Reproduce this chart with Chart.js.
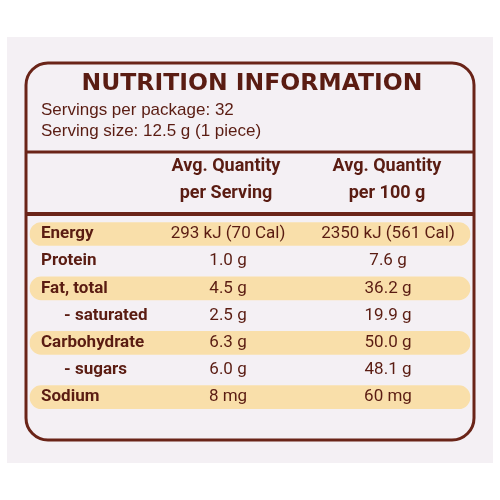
<!DOCTYPE html>
<html><head><meta charset="utf-8">
<script src="https://cdn.jsdelivr.net/npm/chart.js@4"></script>
<style>html,body{margin:0;padding:0;background:#fff}#w{width:500px;height:500px}</style>
</head><body><div id="w"><canvas id="c"></canvas></div>
<script>
const nutrients = ["Energy","Protein","Fat, total","- saturated","Carbohydrate","- sugars","Sodium"];
const perServing = ["293 kJ (70 Cal)","1.0 g","4.5 g","2.5 g","6.3 g","6.0 g","8 mg"];
const per100g = ["2350 kJ (561 Cal)","7.6 g","36.2 g","19.9 g","50.0 g","48.1 g","60 mg"];
const highlighted = [true,false,true,false,true,false,true];
const title = "NUTRITION INFORMATION";
const servingsLine = "Servings per package: 32";
const sizeLine = "Serving size: 12.5 g (1 piece)";
const colHeads = [["Avg. Quantity","per Serving"],["Avg. Quantity","per 100 g"]];

const rowY = nutrients.map((_, i) => 234 + i * 27.2);
const BROWN = "#6a2418", TEXT = "#5a1c12";

const tablePlugin = {
  id: 'table',
  beforeDatasetsDraw(chart) {
    const c = chart.ctx, x = chart.scales.x, y = chart.scales.y;
    const X = v => x.getPixelForValue(v), Y = v => y.getPixelForValue(v);
    c.save();
    c.fillStyle = "#f4f0f4";
    c.fillRect(X(7), Y(37), X(493) - X(7), Y(463) - Y(37));
    c.restore();
  },
  afterDatasetsDraw(chart) {
    const c = chart.ctx, x = chart.scales.x, y = chart.scales.y;
    const X = v => x.getPixelForValue(v), Y = v => y.getPixelForValue(v);
    c.save();
    c.strokeStyle = BROWN; c.lineWidth = 3;
    c.beginPath(); c.roundRect(X(26), Y(63), X(474) - X(26), Y(440) - Y(63), 22); c.stroke();
    c.lineWidth = 3;
    c.beginPath(); c.moveTo(X(26), Y(152)); c.lineTo(X(474), Y(152)); c.stroke();
    c.lineWidth = 4;
    c.beginPath(); c.moveTo(X(26), Y(214)); c.lineTo(X(474), Y(214)); c.stroke();
    c.fillStyle = TEXT; c.textBaseline = "middle";
    c.textAlign = "center";
    c.font = "bold 23.5px 'DejaVu Sans'";
    c.fillText(title, X(252), Y(84));
    c.textAlign = "left";
    c.font = "17px 'Liberation Sans'";
    c.fillText(servingsLine, X(41), Y(110));
    c.fillText(sizeLine, X(41), Y(131));
    c.textAlign = "center";
    c.font = "bold 18px Roboto";
    [226, 387].forEach((cx, k) => {
      c.fillText(colHeads[k][0], X(cx), Y(166));
      c.fillText(colHeads[k][1], X(cx), Y(193));
    });
    nutrients.forEach((n, i) => {
      c.textAlign = "left";
      c.font = "bold 17px Roboto";
      c.fillText(n, X(n.startsWith("-") ? 64 : 41), Y(rowY[i]));
      c.font = "17px Roboto";
      c.textAlign = "center";
      c.fillText(perServing[i], X(228), Y(rowY[i]));
      c.fillText(per100g[i], X(388), Y(rowY[i]));
    });
    c.restore();
  }
};

new Chart(document.getElementById('c'), {
  type: 'bar',
  data: {
    datasets: [{
      data: nutrients.map((n, i) => highlighted[i] ? { x: [30, 470], y: rowY[i] } : null).filter(Boolean),
      backgroundColor: "#f9dfaa",
      borderRadius: 12, borderSkipped: false,
      barThickness: 23
    }]
  },
  options: {
    indexAxis: 'y', responsive: true, maintainAspectRatio: false, animation: false,
    layout: { padding: 0 },
    plugins: { legend: { display: false }, tooltip: { enabled: false } },
    scales: {
      x: { type: 'linear', min: 0, max: 500, display: false, offset: false },
      y: { type: 'linear', min: 0, max: 500, reverse: true, display: false, offset: false }
    }
  },
  plugins: [tablePlugin]
});
</script></body></html>
